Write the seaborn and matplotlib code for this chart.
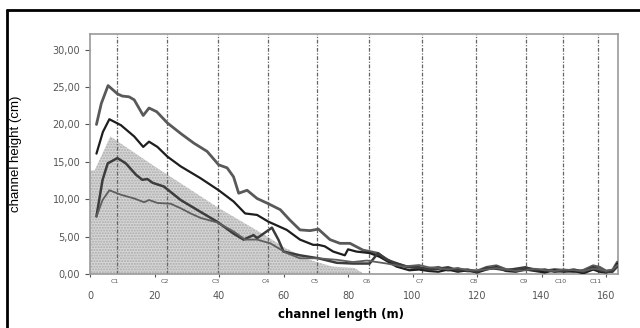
import numpy as np
import pandas as pd
import matplotlib
matplotlib.use("Agg")
import matplotlib.pyplot as plt
from matplotlib.lines import Line2D
import seaborn as sns

# profile curves (x in m, y in cm)
x_a = [2.0, 3.5, 5.6, 8.5, 10, 12.1, 13.7, 16.5, 18.3, 20.7, 24.0, 28.1, 32.2, 36.3, 39.9, 42.5, 44.5,
       46.1, 48.7, 51.8, 55.3, 59.0, 62.0, 65.1, 68.2, 70.8, 74.4, 77.5, 80.6, 84.6, 88.9, 93.8, 99,
       102, 105, 108, 111, 114, 117, 120, 123, 126, 129, 132, 135, 138, 141, 144, 147, 150, 153, 156,
       158, 160, 162, 163.5]
y_a = [20.0, 22.8, 25.2, 24.1, 23.8, 23.7, 23.3, 21.2, 22.2, 21.7, 20.2, 18.8, 17.5, 16.4, 14.6, 14.2, 13.0,
       10.8, 11.2, 10.1, 9.4, 8.6, 7.2, 5.9, 5.8, 6.0, 4.6, 4.1, 4.1, 3.2, 2.8, 1.5, 0.9,
       0.8, 0.7, 0.9, 0.5, 0.7, 0.4, 0.4, 0.9, 1.1, 0.6, 0.5, 0.8, 0.6, 0.4, 0.6, 0.5, 0.3, 0.5, 1.1,
       0.9, 0.4, 0.5, 1.6]

x_b = [2.0, 4, 6.0, 9.6, 13.7, 16.5, 18.3, 20.9, 24.0, 28.1, 34.3, 39.9, 44.5, 48.1, 51.8, 55.3, 61.0,
       65.1, 69.2, 70.8, 72.8, 75.4, 79, 80, 82.6, 86.7, 89.8, 95, 99,
       102, 105, 108, 111, 114, 117, 120, 123, 126, 129, 132, 135, 138, 141, 144, 147, 150, 153, 156,
       158, 160, 162, 163.5]
y_b = [16.1, 19.0, 20.7, 19.9, 18.4, 17.0, 17.7, 17.0, 15.7, 14.4, 12.8, 11.2, 9.7, 8.1, 7.9, 7.0, 5.9,
       4.6, 3.9, 3.9, 3.7, 3.0, 2.5, 3.3, 3.0, 2.8, 2.3, 1.0, 0.5,
       0.6, 0.4, 0.3, 0.6, 0.3, 0.5, 0.2, 0.6, 0.9, 0.4, 0.3, 0.6, 0.4, 0.2, 0.5, 0.3, 0.4, 0.1, 0.6,
       0.3, 0.2, 0.4, 1.4]

x_c = [2.0, 3.9, 5.5, 8.5, 11.1, 14.2, 16.2, 17.8, 19.4, 22.9, 28.1, 34.3, 39.4, 44.5, 47.6, 50.7, 51.8,
       53.8, 56.4, 58.4, 60, 65.1, 70.8, 76.5, 81.5, 86.7, 89.3, 92, 98,
       102, 105, 108, 111, 114, 117, 120, 123, 126, 129, 132, 135, 138, 141, 144, 147, 150, 153, 156,
       158, 160, 162, 163.5]
y_c = [7.7, 12.6, 14.8, 15.5, 14.8, 13.3, 12.6, 12.7, 12.2, 11.7, 9.9, 8.3, 7.0, 5.4, 4.6, 5.2, 4.8,
       5.4, 6.2, 4.6, 3.0, 2.5, 2.1, 1.5, 1.4, 1.4, 2.8, 1.9, 1.0,
       0.9, 0.6, 0.7, 0.9, 0.5, 0.6, 0.3, 0.8, 0.7, 0.5, 0.7, 0.9, 0.5, 0.6, 0.3, 0.4, 0.6, 0.3, 0.9,
       0.5, 0.3, 0.3, 1.0]

x_d = [2.0, 3.9, 6.0, 9.6, 13.7, 16.8, 18.3, 20.9, 25.0, 28.1, 31.2, 34.3, 39.4, 44.5, 48.1, 51.8, 55.9,
       61, 65.1, 70.8, 76.5, 81.5, 85.8, 92, 97, 102,
       105, 108, 111, 114, 117, 120, 123, 126, 129, 132, 135, 138, 141, 144, 147, 150, 153, 156,
       158, 160, 162, 163.5]
y_d = [7.7, 9.9, 11.2, 10.6, 10.1, 9.6, 9.9, 9.5, 9.4, 8.8, 8.1, 7.5, 6.9, 5.7, 4.6, 4.6, 4.1,
       2.8, 2.1, 2.1, 1.9, 1.6, 1.8, 1.4, 1.0, 1.2,
       0.9, 0.8, 0.6, 0.8, 0.5, 0.5, 0.6, 0.8, 0.6, 0.4, 0.5, 0.7, 0.5, 0.4, 0.6, 0.5, 0.4, 0.7,
       0.6, 0.4, 0.6, 1.2]

# shaded reference profile
x_shade = [0, 1.5, 6.3, 20, 40, 55, 60, 68, 75, 82, 85]
y_shade = [13.8, 13.9, 18.4, 14.4, 8.8, 5.0, 3.6, 1.9, 1.0, 0.8, 0.0]

# cross sections
section_x = [8.4, 23.9, 39.7, 55.2, 70.4, 86.5, 102.9, 119.7, 135.2, 146.7, 157.5]
section_names = ["C1", "C2", "C3", "C4", "C5", "C6", "C7", "C8", "C9", "C10", "C11"]

y_ticks = [0, 5, 10, 15, 20, 25, 30]
y_tick_labels = ["0,00", "5,00", "10,00", "15,00", "20,00", "25,00", "30,00"]
x_ticks = [0, 20, 40, 60, 80, 100, 120, 140, 160]

sns.set_style("white")
plt.rcParams["font.family"] = ["DejaVu Sans"]

fig = plt.figure(figsize=(6.4, 3.28), dpi=100)
ax = fig.add_axes([90 / 640, 1 - 274 / 328, 528 / 640, 240 / 328])

ax.fill_between(x_shade, 0, y_shade, facecolor="#d6d6d6", edgecolor="#ababab",
                hatch="......", linewidth=0, zorder=1)

for sx in section_x:
    ax.axvline(sx, color="#666666", lw=0.9, ls=(0, (3, 1.3, 1, 1.3)), zorder=2)

curves = [(x_a, y_a, "#595959", 2.0), (x_b, y_b, "#1e1e1e", 1.6),
          (x_c, y_c, "#3c3c3c", 1.8), (x_d, y_d, "#5e5e5e", 1.3)]
for xs, ys, col, lw in curves:
    sns.lineplot(x=xs, y=ys, sort=False, estimator=None, color=col, lw=lw, ax=ax, zorder=3,
                 solid_joinstyle="round", solid_capstyle="round")

for sx, name in zip(section_x, section_names):
    ax.text(sx - 0.8, -1.0, name, fontsize=4.5, color="#555555", ha="center", va="center",
            clip_on=False)

ax.set_xlim(0, 163.7)
ax.set_ylim(0, 32.1)
ax.set_yticks(y_ticks)
ax.set_yticklabels(y_tick_labels)
ax.set_xticks(x_ticks)
ax.tick_params(axis="y", labelsize=7, colors="#555555", length=3.5, width=0.8, direction="out", left=True)
ax.tick_params(axis="x", labelsize=7, colors="#555555", length=2, width=0.8, direction="out",
               bottom=True, pad=10)
for s in ax.spines.values():
    s.set_color("#9a9a9a")
    s.set_linewidth(1.2)

ax.set_ylabel("channel height (cm)", fontsize=9.5, family=["Liberation Sans", "DejaVu Sans"], color="black")
ax.yaxis.set_label_coords(-0.128, 0.5)
ax.set_xlabel("channel length (m)", fontsize=8.5, fontweight="bold", color="black")
ax.xaxis.set_label_coords(0.475, -0.142)

# outer frame (top and left edges of the screenshot)
fig.add_artist(Line2D([7 / 640, 7 / 640], [0, 1 - 10 / 328], color="black", lw=2))
fig.add_artist(Line2D([7 / 640, 1], [1 - 10 / 328, 1 - 10 / 328], color="black", lw=2))

fig.savefig("out.png", dpi=100)
